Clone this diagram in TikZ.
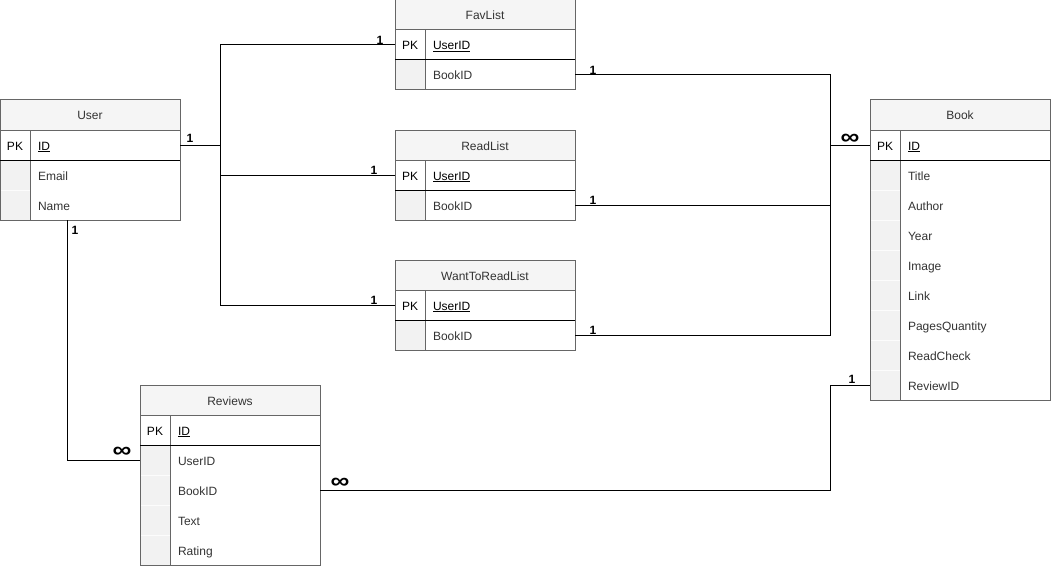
\documentclass[tikz,border=0pt]{standalone}
\usepackage{fontspec}
\setmainfont{Liberation Sans}
\usepackage{tikz}
\usetikzlibrary{
  positioning,
}

\begin{document}
\begin{tikzpicture}[
  x=1pt, y=-1pt,
  line width=1pt,
  node distance=0pt,
  every node/.style={
    font=\fontsize{12}{14}\selectfont,
    outer sep=0pt,
  },
  table head/.style={
    draw=black!60, fill=black!4, text=black!80,
    minimum width=180pt, minimum height=30pt,
    text height=12pt, text depth=2pt,
    anchor=north west,
  },
  key cell/.style={
    draw=black!60, fill=white, text=black,
    minimum width=30pt, minimum height=30pt, inner sep=0pt,
    text height=12pt, text depth=2pt,
  },
  blank cell/.style={
    draw=black!1, fill=black!5,
    minimum width=30pt, minimum height=30pt, inner sep=0pt,
  },
  field/.style={
    text=black!80, text width=134pt, align=left,
    inner xsep=8pt, inner ysep=0pt, minimum height=30pt,
    text height=12pt, text depth=2pt,
  },
  key field/.style={
    field, draw=black!60, text=black,
  },
  frame/.style={draw=black!60},
  row line/.style={draw=black},
  link/.style={draw=black},
  one/.style={font=\fontsize{12}{14}\selectfont\bfseries, inner sep=0pt},
  many/.style={font=\fontsize{22}{22}\selectfont\bfseries, inner sep=0pt},
  ]
  \useasboundingbox (0,0) rectangle (1051,567);

  \node [table head] (user) at (0,100) {User};
  \node [key cell, below right=0pt and 0pt of user.south west] (user-pk) {PK};
  \node [key field, right=of user-pk] (user-id) {\underline{ID}};
  \node [blank cell, below=of user-pk] (user-email-k) {};
  \node [field, right=of user-email-k] (user-email) {Email};
  \node [blank cell, below=of user-email-k] (user-name-k) {};
  \node [field, right=of user-name-k] (user-name) {Name};
  \draw [frame] (user.north west) rectangle (user-name.south east);
  \draw [frame] (user-pk.north east) -- (user-name-k.south east);
  \draw [row line] (user-pk.south west) -- (user-id.south east);

  \node [table head] (fav) at (395,0) {FavList};
  \node [key cell, below right=0pt and 0pt of fav.south west] (fav-pk) {PK};
  \node [key field, right=of fav-pk] (fav-userid) {\underline{UserID}};
  \node [blank cell, below=of fav-pk] (fav-bookid-k) {};
  \node [field, right=of fav-bookid-k] (fav-bookid) {BookID};
  \draw [frame] (fav.north west) rectangle (fav-bookid.south east);
  \draw [frame] (fav-pk.north east) -- (fav-bookid-k.south east);
  \draw [row line] (fav-pk.south west) -- (fav-userid.south east);

  \node [table head] (read) at (395,130) {ReadList};
  \node [key cell, below right=0pt and 0pt of read.south west] (read-pk) {PK};
  \node [key field, right=of read-pk] (read-userid) {\underline{UserID}};
  \node [blank cell, below=of read-pk] (read-bookid-k) {};
  \node [field, right=of read-bookid-k] (read-bookid) {BookID};
  \draw [frame] (read.north west) rectangle (read-bookid.south east);
  \draw [frame] (read-pk.north east) -- (read-bookid-k.south east);
  \draw [row line] (read-pk.south west) -- (read-userid.south east);

  \node [table head] (want) at (395,260) {WantToReadList};
  \node [key cell, below right=0pt and 0pt of want.south west] (want-pk) {PK};
  \node [key field, right=of want-pk] (want-userid) {\underline{UserID}};
  \node [blank cell, below=of want-pk] (want-bookid-k) {};
  \node [field, right=of want-bookid-k] (want-bookid) {BookID};
  \draw [frame] (want.north west) rectangle (want-bookid.south east);
  \draw [frame] (want-pk.north east) -- (want-bookid-k.south east);
  \draw [row line] (want-pk.south west) -- (want-userid.south east);

  \node [table head] (book) at (870,100) {Book};
  \node [key cell, below right=0pt and 0pt of book.south west] (book-pk) {PK};
  \node [key field, right=of book-pk] (book-id) {\underline{ID}};
  \node [blank cell, below=of book-pk] (book-title-k) {};
  \node [field, right=of book-title-k] (book-title) {Title};
  \node [blank cell, below=of book-title-k] (book-author-k) {};
  \node [field, right=of book-author-k] (book-author) {Author};
  \node [blank cell, below=of book-author-k] (book-year-k) {};
  \node [field, right=of book-year-k] (book-year) {Year};
  \node [blank cell, below=of book-year-k] (book-image-k) {};
  \node [field, right=of book-image-k] (book-image) {Image};
  \node [blank cell, below=of book-image-k] (book-link-k) {};
  \node [field, right=of book-link-k] (book-link) {Link};
  \node [blank cell, below=of book-link-k] (book-pages-k) {};
  \node [field, right=of book-pages-k] (book-pages) {PagesQuantity};
  \node [blank cell, below=of book-pages-k] (book-readcheck-k) {};
  \node [field, right=of book-readcheck-k] (book-readcheck) {ReadCheck};
  \node [blank cell, below=of book-readcheck-k] (book-reviewid-k) {};
  \node [field, right=of book-reviewid-k] (book-reviewid) {ReviewID};
  \draw [frame] (book.north west) rectangle (book-reviewid.south east);
  \draw [frame] (book-pk.north east) -- (book-reviewid-k.south east);
  \draw [row line] (book-pk.south west) -- (book-id.south east);

  \node [table head] (rev) at (140,385) {Reviews};
  \node [key cell, below right=0pt and 0pt of rev.south west] (rev-pk) {PK};
  \node [key field, right=of rev-pk] (rev-id) {\underline{ID}};
  \node [blank cell, below=of rev-pk] (rev-userid-k) {};
  \node [field, right=of rev-userid-k] (rev-userid) {UserID};
  \node [blank cell, below=of rev-userid-k] (rev-bookid-k) {};
  \node [field, right=of rev-bookid-k] (rev-bookid) {BookID};
  \node [blank cell, below=of rev-bookid-k] (rev-text-k) {};
  \node [field, right=of rev-text-k] (rev-text) {Text};
  \node [blank cell, below=of rev-text-k] (rev-rating-k) {};
  \node [field, right=of rev-rating-k] (rev-rating) {Rating};
  \draw [frame] (rev.north west) rectangle (rev-rating.south east);
  \draw [frame] (rev-pk.north east) -- (rev-rating-k.south east);
  \draw [row line] (rev-pk.south west) -- (rev-id.south east);

  \coordinate (split) at (220,145);
  \coordinate (merge) at (830,145);
  \coordinate (bend) at (830,385);
  \draw [link] (user-id.east) -- (split) |- (fav-pk.west);
  \draw [link] (split) |- (read-pk.west);
  \draw [link] (split) |- (want-pk.west);
  \draw [link] (fav-bookid.east) -| (merge) -- (book-pk.west);
  \draw [link] (read-bookid.east) -| (merge);
  \draw [link] (want-bookid.east) -| (merge);
  \draw [link] ([xshift=37pt]user-name.south west) |- (rev-userid-k.west);
  \draw [link] (rev-bookid.east) -| (bend) -- (book-reviewid-k.west);

  \node [one] (card-user) at ([shift={(10,-7)}]user-id.east) {1};
  \node [one] (card-fav-user) at ([shift={(-15,-5)}]fav-pk.west) {1};
  \node [one] (card-read-user) at ([shift={(-21,-5)}]read-pk.west) {1};
  \node [one] (card-want-user) at ([shift={(-21,-5)}]want-pk.west) {1};
  \node [one] (card-fav-book) at ([shift={(18,-5)}]fav-bookid.east) {1};
  \node [one] (card-read-book) at ([shift={(18,-5)}]read-bookid.east) {1};
  \node [one] (card-want-book) at ([shift={(18,-5)}]want-bookid.east) {1};
  \node [many] (card-book) at ([shift={(-20,-6)}]book-pk.west) {\scalebox{1.2}[1]{∞}};
  \node [one] (card-user-rev) at ([shift={(45,10)}]user-name.south west) {1};
  \node [many] (card-rev-user) at ([shift={(-18,-8)}]rev-userid-k.west) {\scalebox{1.2}[1]{∞}};
  \node [many] (card-rev-book) at ([shift={(20,-7)}]rev-bookid.east) {\scalebox{1.2}[1]{∞}};
  \node [one] (card-book-rev) at ([shift={(-18,-6)}]book-reviewid-k.west) {1};
\end{tikzpicture}
\end{document}
